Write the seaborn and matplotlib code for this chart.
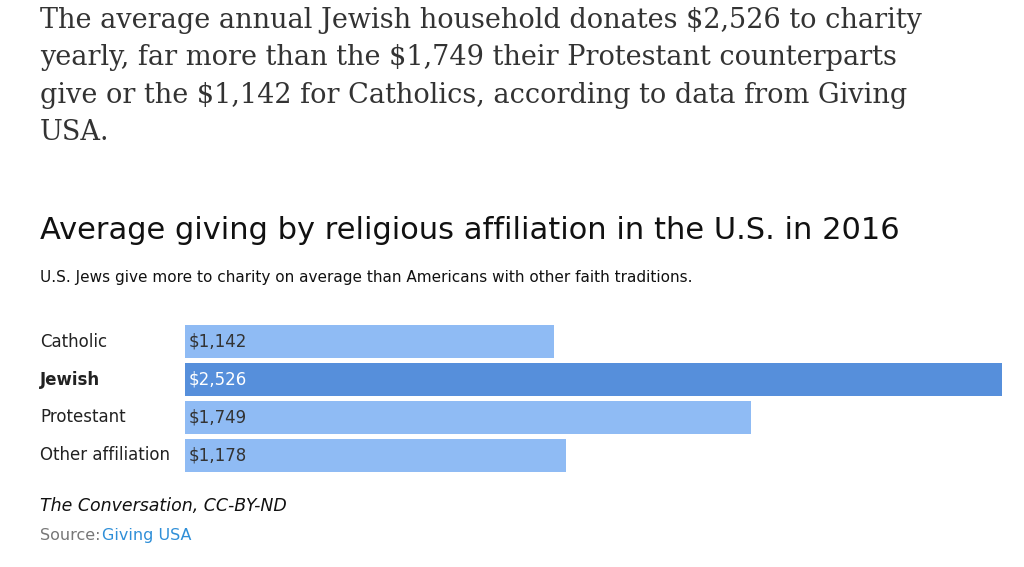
"""
giving.py
Average giving by religious affiliation, recreated as a seaborn bar chart.
"""

import matplotlib
matplotlib.use("Agg")
import matplotlib.pyplot as plt
import matplotlib.transforms as mtransforms
import seaborn as sns
import pandas as pd

TEXT   = "#333333"
GREY   = "#777777"
LIGHT  = "#8fbbf4"
DARK   = "#568fdb"
LINK   = "#2f8fd8"

data = pd.DataFrame({
    "group": ["Catholic", "Jewish", "Protestant", "Other affiliation"],
    "giving": [1142, 2526, 1749, 1178],
})


def _save(name):
    plt.savefig(name, dpi=100, facecolor="white")
    plt.close()


def plot_giving(df: pd.DataFrame):
    fig = plt.figure(figsize=(10.24, 5.67))
    fig.patch.set_facecolor("white")

    # paragraph above the chart
    para = ("The average annual Jewish household donates $2,526 to charity\n"
            "yearly, far more than the $1,749 their Protestant counterparts\n"
            "give or the $1,142 for Catholics, according to data from Giving\n"
            "USA.")
    fig.text(0.039, 0.988, para, fontsize=19.5, family="DejaVu Serif",
             color=TEXT, va="top", linespacing=1.5)

    fig.text(0.039, 0.594, "Average giving by religious affiliation in the U.S. in 2016",
             fontsize=22, color="#111111", va="center")
    fig.text(0.039, 0.510,
             "U.S. Jews give more to charity on average than Americans with other faith traditions.",
             fontsize=11, color="#111111", va="center")

    ax = fig.add_axes([0.1807, 0.1658, 0.7978, 0.263])
    colors = [DARK if g == "Jewish" else LIGHT for g in df["group"]]
    sns.barplot(data=df, x="giving", y="group", hue="group", palette=colors,
                width=0.88, saturation=1, legend=False, ax=ax)
    ax.set_xlim(0, df["giving"].max())
    ax.set_ylim(3.47, -0.47)
    ax.set_axis_off()

    trans = mtransforms.blended_transform_factory(fig.transFigure, ax.transData)
    for i, (g, v) in enumerate(zip(df["group"], df["giving"])):
        bold = g == "Jewish"
        ax.text(0.039, i, g, transform=trans, ha="left", va="center",
                fontsize=12, color="#222222",
                fontweight="bold" if bold else "normal")
        ax.text(12, i, f"${v:,}", ha="left", va="center", fontsize=12,
                color="white" if bold else TEXT)

    fig.text(0.039, 0.107, "The Conversation, CC-BY-ND", fontsize=12.5,
             style="italic", color="#111111", va="center")
    fig.text(0.039, 0.056, "Source:", fontsize=11.5, color=GREY, va="center")
    fig.text(0.1, 0.056, "Giving USA", fontsize=11.5, color=LINK, va="center")

    _save("out.png")


plot_giving(data)
